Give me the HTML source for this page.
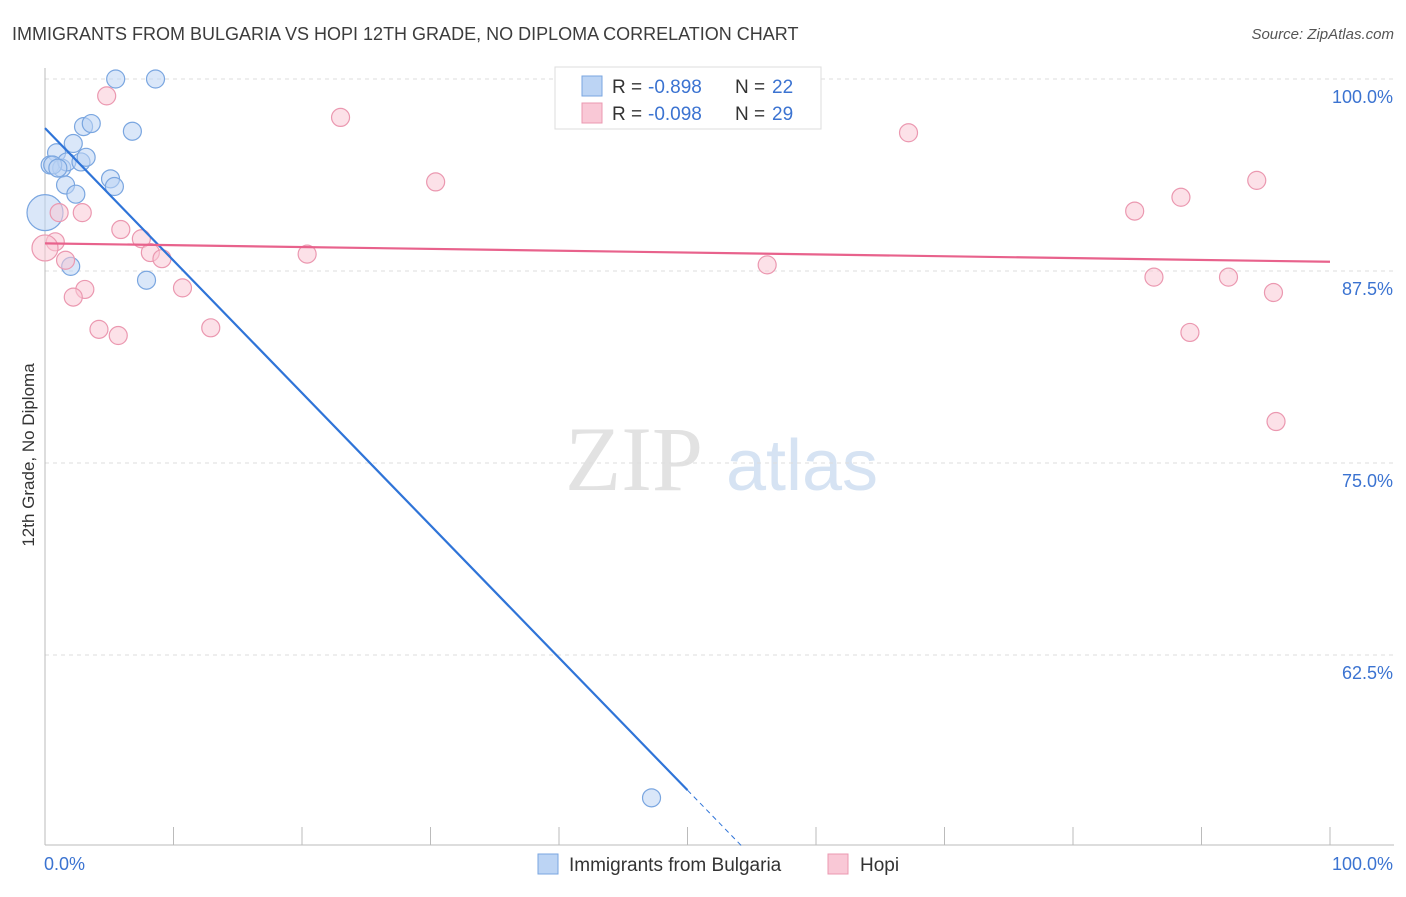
<!DOCTYPE html>
<html><head><meta charset="utf-8"><style>
body{margin:0;background:#fff;font-family:"Liberation Sans",sans-serif}
</style></head><body>
<svg width="1406" height="892" xmlns="http://www.w3.org/2000/svg" font-family="Liberation Sans, sans-serif">
<text x="12" y="40" font-size="18" fill="#3c3c3c">IMMIGRANTS FROM BULGARIA VS HOPI 12TH GRADE, NO DIPLOMA CORRELATION CHART</text>
<text x="1394" y="39" font-size="15" fill="#555" text-anchor="end" font-style="italic">Source: ZipAtlas.com</text>
<g>
<text x="634" y="490" font-size="92" fill="#e2e2e2" text-anchor="middle" font-family="Liberation Serif, serif">ZIP</text>
<text x="802" y="490" font-size="72" fill="#d6e3f3" text-anchor="middle">atlas</text>
</g>
<g id="grid"></g><g id="axes"></g><g id="marks"></g>
<text transform="translate(34,455) rotate(-90)" font-size="17" fill="#333" text-anchor="middle">12th Grade, No Diploma</text>
<g>
<rect x="555" y="67" width="266" height="62" fill="#fff" stroke="#ddd"/>
<rect x="582" y="76" width="20" height="20" fill="#bcd4f4" stroke="#7aa6e0"/>
<rect x="582" y="103" width="20" height="20" fill="#f9c8d6" stroke="#eb98b0"/>
<text x="612" y="93" font-size="19" fill="#333">R =</text>
<text x="648" y="93" font-size="19" fill="#3b73d1">-0.898</text>
<text x="735" y="93" font-size="19" fill="#333">N =</text>
<text x="772" y="93" font-size="19" fill="#3b73d1">22</text>
<text x="612" y="120" font-size="19" fill="#333">R =</text>
<text x="648" y="120" font-size="19" fill="#3b73d1">-0.098</text>
<text x="735" y="120" font-size="19" fill="#333">N =</text>
<text x="772" y="120" font-size="19" fill="#3b73d1">29</text>
</g>
<g>
<rect x="538" y="854" width="20" height="20" fill="#bcd4f4" stroke="#7aa6e0"/>
<text x="569" y="871" font-size="19" fill="#333">Immigrants from Bulgaria</text>
<rect x="828" y="854" width="20" height="20" fill="#f9c8d6" stroke="#eb98b0"/>
<text x="860" y="871" font-size="19" fill="#333">Hopi</text>
</g>
<script>
const yTicks=[100,87.5,75,62.5];
const yTickLabels=["100.0%","87.5%","75.0%","62.5%"];
const blueX=[5.5,8.6,3.0,3.6,6.8,0.9,2.2,0.4,1.3,1.7,2.8,3.2,1.6,2.4,5.1,5.4,0,2.0,7.9,47.2,0.6,1.0];
const blueY=[100,100,96.9,97.1,96.6,95.2,95.8,94.4,94.2,94.6,94.6,94.9,93.1,92.5,93.5,93.0,91.3,87.8,86.9,53.2,94.4,94.2];
const blueR=[9,9,9,9,9,9,9,9,9,9,9,9,9,9,9,9,18,9,9,9,9,9];
const pinkX=[4.8,23.0,67.2,30.4,94.3,88.4,84.8,1.1,2.9,5.9,0.8,0,7.5,8.2,9.1,1.6,20.4,56.2,3.1,2.2,10.7,86.3,92.1,95.6,4.2,5.7,12.9,89.1,95.8];
const pinkY=[98.9,97.5,96.5,93.3,93.4,92.3,91.4,91.3,91.3,90.2,89.4,89.0,89.6,88.7,88.3,88.2,88.6,87.9,86.3,85.8,86.4,87.1,87.1,86.1,83.7,83.3,83.8,83.5,77.7];
const pinkR=[9,9,9,9,9,9,9,9,9,9,9,13,9,9,9,9,9,9,9,9,9,9,9,9,9,9,9,9,9];
const blueTrend=[96.8,-0.862];
const pinkTrend=[89.3,-0.012];
const NS="http://www.w3.org/2000/svg";
const X=v=>45+v*12.85, Y=v=>79+(100-v)*15.36;
function mk(t,a,p){const e=document.createElementNS(NS,t);for(const k in a)e.setAttribute(k,a[k]);document.getElementById(p).appendChild(e);return e;}
yTicks.forEach((t,i)=>{
 let l=mk('line',{x1:45,x2:1394,y1:Y(t),y2:Y(t),stroke:'#ddd','stroke-dasharray':'4,4'},'grid');
 
 
 let tx=mk('text',{x:1393,y:Y(t)+24,'font-size':18,fill:'#3b73d1','text-anchor':'end'},'axes');
 tx.textContent=yTickLabels[i];
 
 
});
let ax=mk('line',{x1:45,x2:45,y1:68,y2:845,stroke:'#bbb'},'axes');


let bx=mk('line',{x1:45,x2:1394,y1:845,y2:845,stroke:'#bbb'},'axes');


for(let i=0;i<=10;i++){let t=mk('line',{x1:X(i*10),x2:X(i*10),y1:827,y2:845,stroke:'#bbb'},'axes');
 
 }
let x0=mk('text',{x:44,y:870,'font-size':18,fill:'#3b73d1'},'axes');x0.textContent='0.0%';


let x1=mk('text',{x:1393,y:870,'font-size':18,fill:'#3b73d1','text-anchor':'end'},'axes');x1.textContent='100.0%';


function pts(xs,ys,rs,f,s,name){xs.forEach((x,i)=>{
 let c=mk('circle',{cx:X(x),cy:Y(ys[i]),r:rs[i],fill:f,'fill-opacity':0.55,stroke:s,'stroke-width':1.2},'marks');
 
 });}
pts(blueX,blueY,blueR,'#bcd4f4','#7aa6e0','bulgaria-point');
pts(pinkX,pinkY,pinkR,'#f9c8d6','#eb98b0','hopi-point');
const bEnd=50;
let bl=mk('line',{x1:X(0),y1:Y(blueTrend[0]),x2:X(bEnd),y2:Y(blueTrend[0]+blueTrend[1]*bEnd),stroke:'#2f74d8','stroke-width':2.2},'marks');


const bEnd2=(blueTrend[0]-50.1)/-blueTrend[1];
let bd=mk('line',{x1:X(bEnd),y1:Y(blueTrend[0]+blueTrend[1]*bEnd),x2:X(bEnd2),y2:Y(blueTrend[0]+blueTrend[1]*bEnd2),stroke:'#2f74d8','stroke-width':1,'stroke-dasharray':'5,4'},'marks');


let pl=mk('line',{x1:X(0),y1:Y(pinkTrend[0]),x2:X(100),y2:Y(pinkTrend[0]+pinkTrend[1]*100),stroke:'#e8628c','stroke-width':2.2},'marks');


</script>
</svg>
</body></html>
